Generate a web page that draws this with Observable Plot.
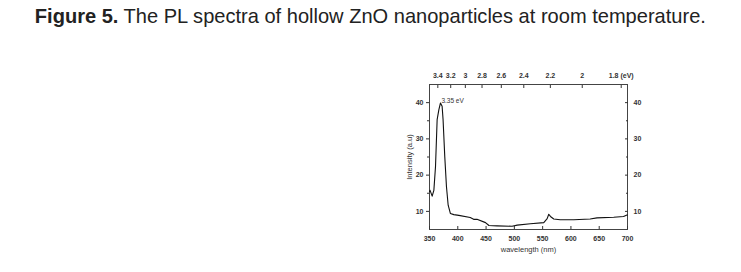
<!DOCTYPE html>
<html>
<head>
<meta charset="utf-8">
<script src="https://cdn.jsdelivr.net/npm/d3@7"></script>
<script src="https://cdn.jsdelivr.net/npm/@observablehq/plot@0.6"></script>
<style>
  html, body { margin: 0; padding: 0; background: #fff; }
  #title { height: 40px; box-sizing: border-box; padding-top: 4px; text-align: center;
           font-family: "Liberation Sans", Arial, sans-serif; font-size: 21px; color: #222; white-space: nowrap; }
  #title span { display: inline-block; transform: scaleX(0.955); transform-origin: center; }
  #title b { font-weight: bold; }
  #chart svg { display: block; }
</style>
</head>
<body>
<div id="title"><span><b>Figure 5.</b> The PL spectra of hollow ZnO nanoparticles at room temperature.</span></div>
<div id="chart"></div>
<script>
// wavelength (nm)
const wavelength = [350, 351, 354.7, 357.7, 360.6, 363.5, 366.5, 369.4, 372.3, 374, 377, 380, 383, 387, 393, 401.8, 422, 428, 434, 449, 455, 469.6, 496, 505, 528.4, 552, 558, 560.8, 563.8, 569.6, 581, 605, 634, 646, 675.6, 693, 699, 700];
// PL intensity (a.u.)
const intensity = [15.5, 15.8, 14.2, 15.8, 22.3, 35.3, 38, 39.9, 39, 35.3, 25.1, 16.8, 11.7, 9.4, 9.1, 8.9, 8.3, 7.8, 7.8, 6.9, 6.1, 6.0, 5.9, 6.2, 6.6, 6.9, 8.0, 9.2, 8.6, 7.9, 7.7, 7.7, 7.9, 8.2, 8.4, 8.6, 9.0, 9.0];
const xTicks = [350, 400, 450, 500, 550, 600, 650, 700];
const yTicks = [10, 20, 30, 40];
const yMinorTicks = [15, 25, 35];
const eVTicks = [3.4, 3.2, 3, 2.8, 2.6, 2.4, 2.2, 2, 1.8];
const eVLabels = ["3.4", "3.2", "3", "2.8", "2.6", "2.4", "2.2", "2", "1.8 (eV)"];
const peakLabel = "3.35 eV";
const peakWavelength = 371;
const peakIntensity = 40.6;

const data = wavelength.map((w, i) => ({w, v: intensity[i]}));
const eVnm = eVTicks.map(e => 1240 / e);
const eVFmt = d => eVLabels[eVnm.findIndex(n => Math.abs(n - d) < 1e-6)];

const font = "Liberation Sans, Arial, sans-serif";
const plot = Plot.plot({
  width: 741,
  height: 232,
  marginTop: 44,
  marginBottom: 43,
  marginLeft: 429,
  marginRight: 114,
  style: {fontFamily: font, fontSize: "7px", fontWeight: "bold", color: "#333", background: "#fff"},
  x: {domain: [350, 700]},
  y: {domain: [5, 45]},
  marks: [
    Plot.frame({stroke: "#444"}),
    Plot.axisX(xTicks, {anchor: "bottom", tickSize: -3, tickPadding: 10, label: null}),
    Plot.axisX([], {anchor: "bottom", label: "wavelength (nm)", labelAnchor: "center", labelOffset: 22, labelArrow: "none", fontWeight: "normal", fontSize: 7.5}),
    Plot.axisX(eVnm, {anchor: "top", tickSize: -3, tickPadding: 10, tickFormat: eVFmt, label: null}),
    Plot.axisY(yTicks, {anchor: "left", tickSize: 3, tickPadding: 3, label: null}),
    Plot.axisY([], {anchor: "left", label: "Intensity (a.u)", labelAnchor: "center", labelOffset: 23, labelArrow: "none", fontWeight: "normal", fontSize: 7.5}),
    Plot.axisY(yMinorTicks, {anchor: "left", tickSize: 2, tickFormat: () => "", label: null}),
    Plot.axisY(yTicks, {anchor: "right", tickSize: -3, tickPadding: 9, label: null}),
    Plot.axisY(yMinorTicks, {anchor: "right", tickSize: -2, tickFormat: () => "", label: null}),
    Plot.line(data, {x: "w", y: "v", stroke: "#111", strokeWidth: 1.1}),
    Plot.text([peakLabel], {x: peakWavelength, y: peakIntensity, text: d => d, textAnchor: "start", fontSize: 6.5, fontWeight: "normal"})
  ]
});
document.getElementById("chart").appendChild(plot);
</script>
</body>
</html>
